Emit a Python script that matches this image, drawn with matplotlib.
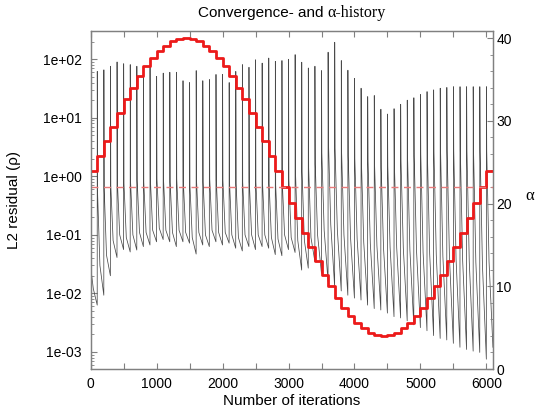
import numpy as np
import matplotlib
matplotlib.use('Agg')
import matplotlib.pyplot as plt
from matplotlib.ticker import MultipleLocator, LogLocator, FuncFormatter, NullFormatter

# ---- data ----
# start iteration of every alpha step (alpha changes every 100 iterations)
step_start = list(range(0, 6100, 100))
last_iter = 6100

# alpha value held over each step
alpha_vals = [23.9, 25.7, 27.6, 29.3, 31.0, 32.6, 34.0, 35.4, 36.6, 37.6,
              38.4, 39.1, 39.6, 39.9, 40.0, 39.9, 39.6, 39.1, 38.4, 37.6,
              36.6, 35.4, 34.0, 32.6, 31.0, 29.3, 27.6, 25.7, 23.9, 22.0,
              20.1, 18.3, 16.4, 14.7, 13.0, 11.4, 10.0, 8.6, 7.4, 6.4,
              5.6, 4.9, 4.4, 4.1, 4.0, 4.1, 4.4, 4.9, 5.6, 6.4,
              7.4, 8.6, 10.0, 11.4, 13.0, 14.7, 16.4, 18.3, 20.1, 22.0,
              23.9]
alpha_mean = 22.0

# residual per step: value right after the alpha change, a few and 40
# iterations later, and at the end of the step
res_peak = [0.04,
            62, 66, 76, 90, 84, 81, 76, 64, 79, 51,
            58, 60, 60, 43, 40, 64, 43, 45, 55, 55,
            40, 62, 81, 73, 98, 86, 105, 92, 95, 100,
            120, 89, 71, 76, 64, 132, 195, 95, 65, 47,
            32, 23, 24, 14, 11.6, 14.3, 17, 20, 22, 25,
            28, 30, 32, 33, 34, 34, 34, 34, 34, 34]
res_early = [0.025,
             0.5, 0.6, 0.7, 0.8, 0.75, 0.8, 0.85, 0.8, 0.9, 0.9,
             0.85, 0.8, 0.9, 0.8, 0.7, 0.85, 0.8, 0.9, 0.85, 0.85,
             0.8, 0.75, 0.8, 0.8, 0.8, 0.8, 0.75, 0.7, 0.8, 0.9,
             1.2, 1.2, 1.4, 1.6, 2.5, 4.0, 3.0, 2.5, 2.2, 2.0,
             1.8, 1.8, 1.5, 1.4, 1.5, 1.6, 1.8, 2.0, 2.2, 2.4,
             2.5, 2.6, 2.7, 2.7, 2.7, 2.7, 2.7, 2.7, 2.7, 2.7]
res_knee = [0.012,
            0.03, 0.045, 0.08, 0.10, 0.09, 0.10, 0.11, 0.11, 0.12, 0.13,
            0.12, 0.11, 0.12, 0.11, 0.09, 0.11, 0.10, 0.12, 0.11, 0.11,
            0.10, 0.09, 0.10, 0.10, 0.10, 0.10, 0.09, 0.085, 0.10, 0.09,
            0.08, 0.08, 0.09, 0.10, 0.12, 0.15, 0.12, 0.10, 0.09, 0.085,
            0.075, 0.07, 0.065, 0.06, 0.06, 0.06, 0.06, 0.055, 0.055, 0.05,
            0.047, 0.045, 0.043, 0.04, 0.038, 0.036, 0.035, 0.034, 0.03, 0.035]
res_end = [0.0063,
           0.0093, 0.020, 0.041, 0.056, 0.051, 0.055, 0.063, 0.067, 0.076, 0.083,
           0.076, 0.063, 0.076, 0.072, 0.047, 0.067, 0.063, 0.076, 0.067, 0.072,
           0.059, 0.053, 0.063, 0.056, 0.063, 0.059, 0.046, 0.044, 0.056, 0.050,
           0.025, 0.027, 0.035, 0.022, 0.016, 0.013, 0.011, 0.0093, 0.0083, 0.0077,
           0.0063, 0.0055, 0.0052, 0.0046, 0.0040, 0.0038, 0.0034, 0.0029, 0.0026, 0.0023,
           0.0019, 0.0017, 0.0016, 0.0014, 0.0012, 0.0011, 0.00103, 0.00098, 0.00075, 0.0012]

# iteration offsets inside a step where the values above sit
offsets = (0, 5, 40, 99)


def residual_history():
    its, res = [], []
    for i, t0 in enumerate(step_start):
        vals = (res_peak[i], res_early[i], res_knee[i], res_end[i])
        for dt, v in zip(offsets, vals):
            its.append(t0 + dt)
            res.append(v)
    return its, res


plt.rcParams['font.family'] = ['Liberation Sans', 'DejaVu Sans']
plt.rcParams['font.size'] = 10
grey = '#808080'

fig = plt.figure(figsize=(5.35, 4.17), dpi=100)
ax = fig.add_axes([0.1695, 0.1151, 0.752, 0.8113])
ax2 = ax.twinx()

its, res = residual_history()
ax.plot(its, res, color='#4a4a4a', lw=0.55)
ax.set_yscale('log')
ax.set_xlim(0, last_iter)
ax.set_ylim(5.1e-4, 308)

ax2.step(step_start + [last_iter], alpha_vals + [alpha_vals[-1]], where='post',
         color='#ec1a1a', lw=2)
ax2.axhline(alpha_mean, color='#e87a7a', lw=1, dashes=(5, 4))
ax2.set_ylim(0, 40.9)

# ticks
ax.xaxis.set_major_locator(MultipleLocator(1000))
ax.xaxis.set_minor_locator(MultipleLocator(500))
ax.yaxis.set_major_locator(LogLocator(base=10, numticks=20))
ax.yaxis.set_minor_locator(LogLocator(base=10, subs=np.arange(2, 10), numticks=20))
ax.yaxis.set_minor_formatter(NullFormatter())
ax.yaxis.set_major_formatter(FuncFormatter(lambda v, p: '%.0e' % v))
ax2.yaxis.set_major_locator(MultipleLocator(10))
ax2.yaxis.set_minor_locator(MultipleLocator(2))

ax.tick_params(which='both', direction='in', top=True, right=False, color=grey)
ax.tick_params(which='major', length=4, width=0.8)
ax.tick_params(which='minor', length=4, width=0.8, axis='x')
ax.tick_params(which='minor', length=2.5, width=0.6, axis='y')
ax.tick_params(axis='y', pad=6.5)
ax.tick_params(axis='x', pad=5.5)
ax2.tick_params(which='both', direction='in', left=False, right=True, color=grey, pad=2.5)
ax2.tick_params(which='major', length=4, width=0.8)
ax2.tick_params(which='minor', length=2.5, width=0.6)

for a in (ax, ax2):
    for s in a.spines.values():
        s.set_color(grey)
        s.set_linewidth(0.9)

# labels
ax.set_xlabel('Number of iterations', fontsize=11, va='top')
ax.xaxis.set_label_coords(0.5, -0.075)
ax.set_ylabel('L2 residual (\u03c1)', fontsize=11)
ax.yaxis.set_label_coords(-0.172, 0.5)
ax2.set_ylabel('\u03b1', rotation=0, fontsize=12, family='Liberation Serif',
               ha='center', va='center')
ax2.yaxis.set_label_coords((530 - 90.7) / 402.3, 0.51)

# title: sans part + serif alpha part, centred over the axes
t1 = fig.text(0, 0.969, 'Convergence- and', fontsize=11, va='center', ha='left')
t2 = fig.text(0, 0.969, '\u03b1-history', fontsize=11.5, va='center', ha='left',
              family='Liberation Serif')
fig.canvas.draw()
r = fig.canvas.get_renderer()
w1 = t1.get_window_extent(r).width
w2 = t2.get_window_extent(r).width
gap = 4
x0 = (90.7 + 493) / 2 - (w1 + gap + w2) / 2
t1.set_x(x0 / 535)
t2.set_x((x0 + w1 + gap) / 535)

fig.savefig('out.png', dpi=100)
